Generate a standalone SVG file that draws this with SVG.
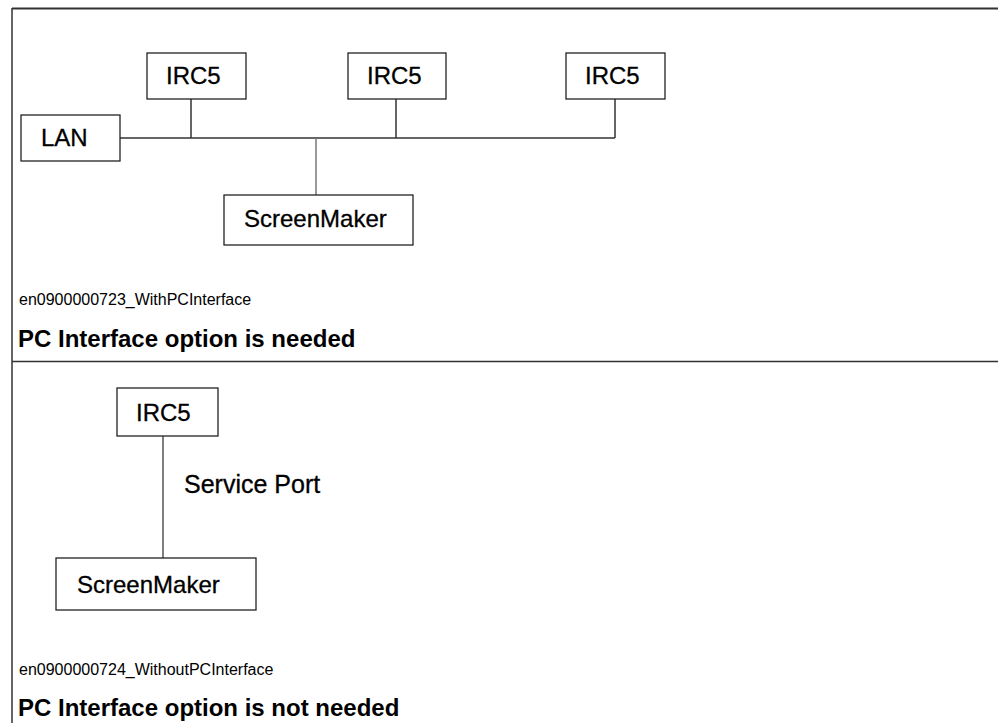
<svg xmlns="http://www.w3.org/2000/svg" width="998" height="723" viewBox="0 0 998 723">
<style>
.bg{fill:#ffffff}
.box{fill:#ffffff;stroke:#222;stroke-width:1.3}
.frame{stroke:#333;stroke-width:1.5;fill:none}
.wire{stroke:#333;stroke-width:1.5;fill:none}
.wire2{stroke:#777;stroke-width:1.5;fill:none}
.lbl{font-family:"Liberation Sans",Arial,sans-serif;font-size:24px;fill:#000;stroke:#000;stroke-width:0.3}
.cap{font-family:"Liberation Sans",Arial,sans-serif;font-size:16px;fill:#000}
.head{font-family:"Liberation Sans",Arial,sans-serif;font-size:24px;font-weight:bold;fill:#000}
</style>
<rect class="bg" x="0" y="0" width="998" height="723"/>
<g id="frame">
<line class="frame" x1="12" y1="8.5" x2="998" y2="8.5" style="stroke-width:2"/>
<line class="frame" x1="12" y1="8" x2="12" y2="723"/>
<line class="frame" x1="12" y1="361.5" x2="998" y2="361.5"/>
</g>
<g id="connectors">
<polyline class="wire" points="120,138 615,138"/>
<line class="wire" x1="191" y1="99" x2="191" y2="138"/>
<line class="wire" x1="396" y1="99" x2="396" y2="138"/>
<line class="wire" x1="615" y1="99" x2="615" y2="138"/>
<line class="wire2" x1="316" y1="138" x2="316" y2="195"/>
<line class="wire2" x1="163" y1="436" x2="163" y2="558" style="stroke:#555"/>
</g>
<g id="lan"><rect class="box" x="21" y="115" width="99" height="46"/><text class="lbl" x="41" y="146">LAN</text></g>
<g id="irc5-1"><rect class="box" x="147" y="53" width="99" height="46"/><text class="lbl" x="166" y="84">IRC5</text></g>
<g id="irc5-2"><rect class="box" x="348" y="53" width="98" height="46"/><text class="lbl" x="367" y="84">IRC5</text></g>
<g id="irc5-3"><rect class="box" x="566" y="53" width="99" height="46"/><text class="lbl" x="585" y="84">IRC5</text></g>
<g id="screenmaker-1"><rect class="box" x="224" y="195" width="189" height="50"/><text class="lbl" x="244" y="227">ScreenMaker</text></g>
<g id="caption-1">
<text class="cap" x="19" y="305">en0900000723_WithPCInterface</text>
<text class="head" x="18" y="347">PC Interface option is needed</text>
</g>
<g id="irc5-4"><rect class="box" x="117" y="388" width="101" height="48"/><text class="lbl" x="136" y="421">IRC5</text></g>
<g id="service-port-label"><text class="lbl" x="184" y="493" style="font-size:25px">Service Port</text></g>
<g id="screenmaker-2"><rect class="box" x="56" y="558" width="200" height="52"/><text class="lbl" x="77" y="593">ScreenMaker</text></g>
<g id="caption-2">
<text class="cap" x="19" y="675">en0900000724_WithoutPCInterface</text>
<text class="head" x="18" y="716">PC Interface option is not needed</text>
</g>
</svg>
